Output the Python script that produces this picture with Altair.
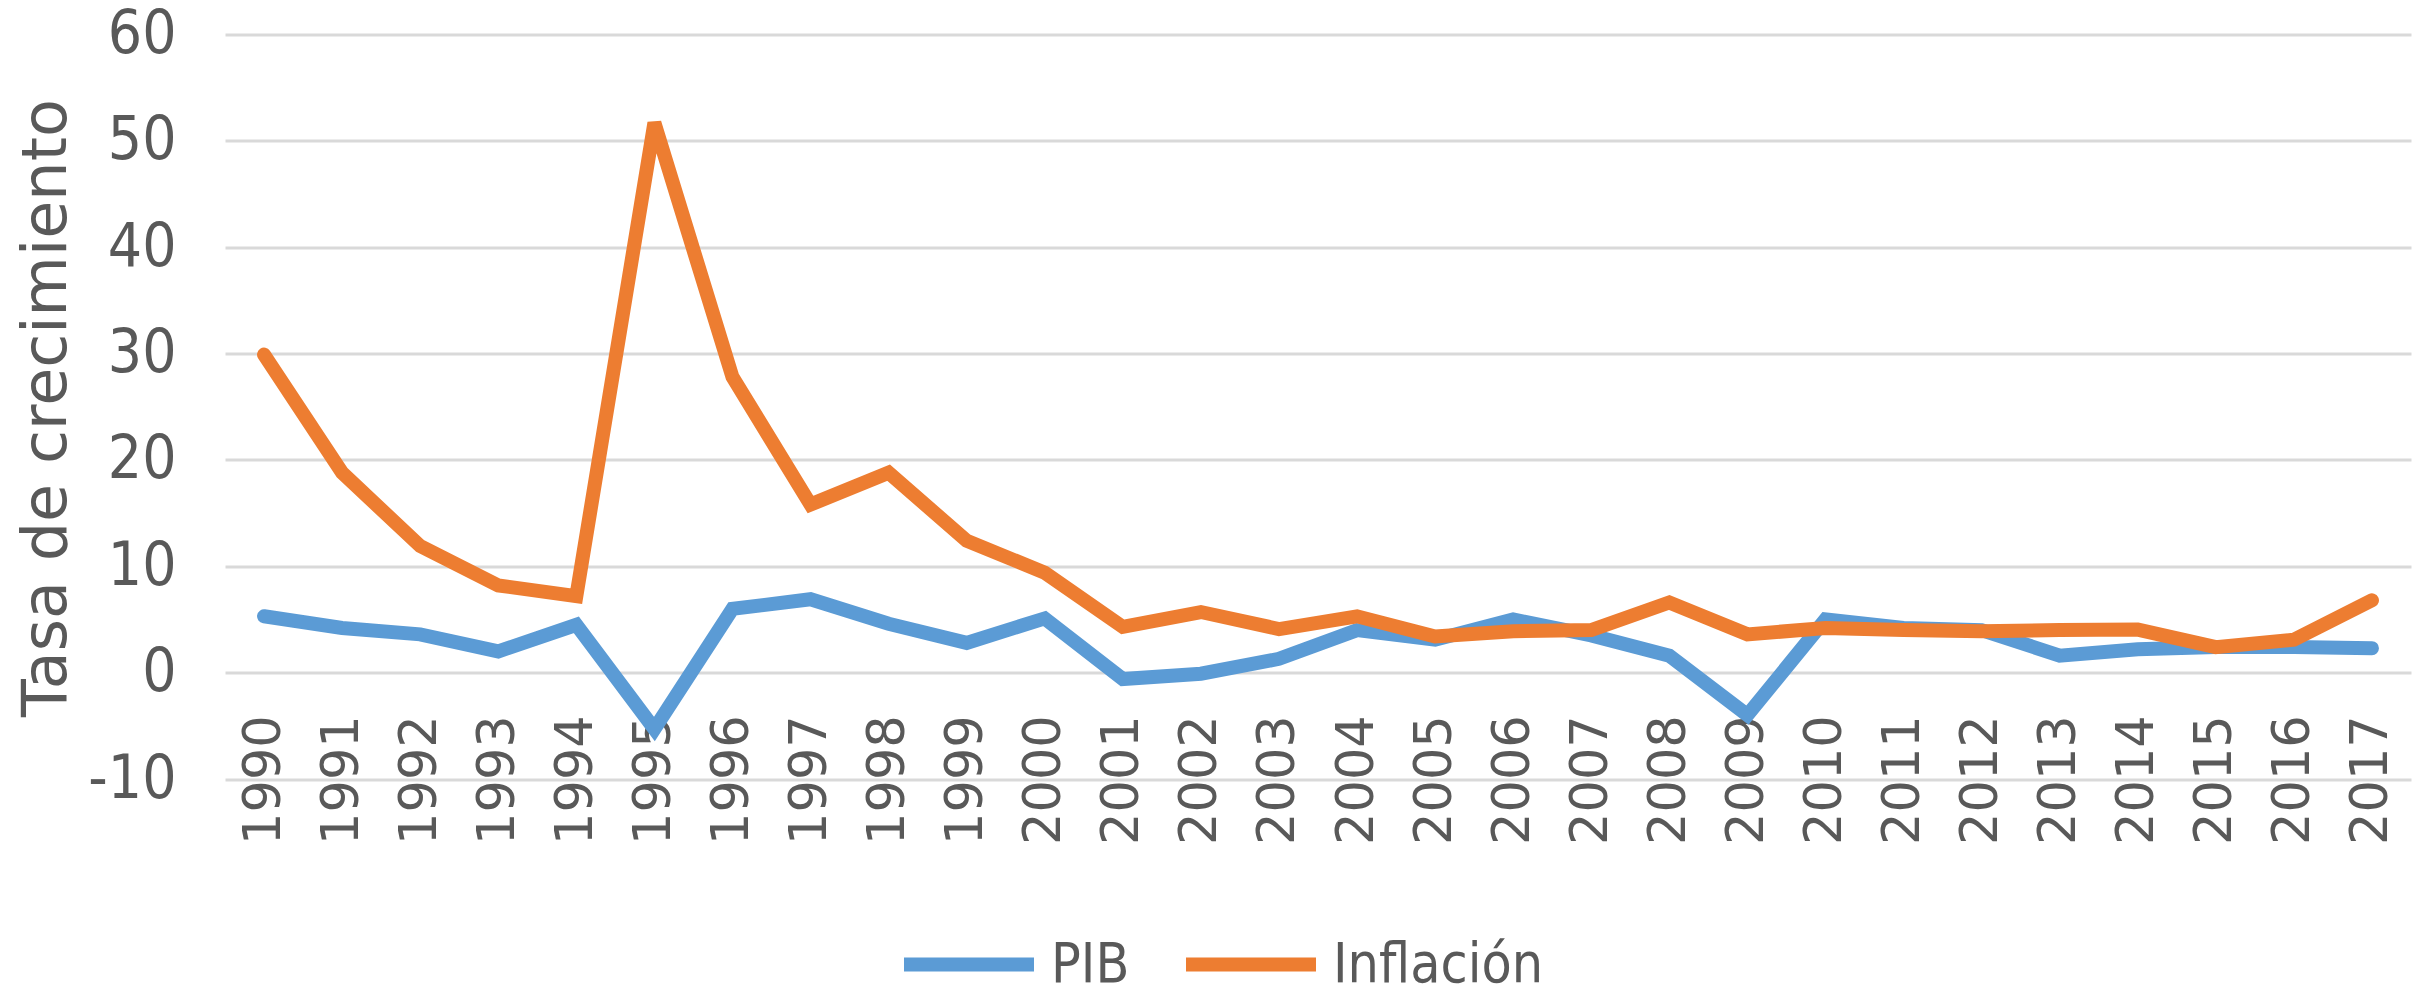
import altair as alt
import pandas as pd

years = [str(y) for y in [1990, 1991, 1992, 1993, 1994, 1995, 1996, 1997, 1998, 1999,
                          2000, 2001, 2002, 2003, 2004, 2005, 2006, 2007, 2008, 2009,
                          2010, 2011, 2012, 2013, 2014, 2015, 2016, 2017]]
pib = [5.3, 4.2, 3.6, 2.0, 4.5, -5.3, 6.0, 6.9, 4.6, 2.8,
       5.1, -0.6, -0.1, 1.3, 4.0, 3.1, 5.0, 3.5, 1.6, -4.0,
       5.0, 4.2, 4.0, 1.6, 2.2, 2.4, 2.4, 2.3]
inflacion = [29.9, 18.8, 11.9, 8.2, 7.2, 51.7, 27.8, 15.8, 18.8, 12.4,
             9.4, 4.3, 5.7, 4.1, 5.3, 3.4, 3.9, 4.0, 6.6, 3.6,
             4.2, 4.0, 3.9, 4.0, 4.05, 2.4, 3.1, 6.8]
series = ["PIB", "Inflación"]
colors = ["#5B9BD5", "#ED7D31"]
y_ticks = [-10, 0, 10, 20, 30, 40, 50, 60]

df = pd.DataFrame({
    "Año": years * 2,
    "Valor": pib + inflacion,
    "Serie": [series[0]] * len(years) + [series[1]] * len(years),
})

NARROW = "'Liberation Sans Narrow', 'DejaVu Sans Condensed', 'Liberation Sans', sans-serif"
WIDE = "DejaVu Sans"
GREY = "#595959"

base = alt.Chart(df).encode(
    x=alt.X("Año:N", sort=years,
            scale=alt.Scale(type="point", padding=0.5),
            axis=alt.Axis(title=None, labelAngle=-90, labelFont=WIDE, labelFontSize=51,
                          labelColor=GREY, labelPadding=42, offset=-106.3,
                          domain=False, ticks=False, grid=False, labelOverlap=False)),
    y=alt.Y("Valor:Q",
            scale=alt.Scale(domain=[-10, 60], nice=False, zero=False),
            axis=alt.Axis(values=y_ticks, title="Tasa de crecimiento",
                          labelExpr="toString(datum.value)",
                          titleFont=WIDE, titleFontSize=62, titleFontWeight="normal",
                          titleColor=GREY, titleAngle=270, titleX=-160, titleY=373,
                          titleAlign="center", titleBaseline="alphabetic",
                          labelFont=NARROW, labelFontSize=60, labelColor=GREY,
                          labelPadding=49, domain=False, ticks=False,
                          grid=True, gridColor="#D9D9D9", gridWidth=3)),
    color=alt.Color("Serie:N",
                    scale=alt.Scale(domain=series, range=colors),
                    legend=alt.Legend(title=None, orient="none", direction="horizontal",
                                      legendX=672, legendY=858,
                                      symbolType="stroke", symbolSize=16900,
                                      symbolStrokeWidth=14, labelFont=NARROW,
                                      labelFontSize=55, labelColor=GREY,
                                      labelOffset=10, columnPadding=28,
                                      labelLimit=400)),
)

line_style = dict(strokeWidth=14, strokeJoin="miter", strokeCap="round")
pib_line = base.transform_filter(alt.datum.Serie == "PIB").mark_line(**line_style)
inf_line = base.transform_filter(alt.datum.Serie == "Inflación").mark_line(**line_style)

chart = alt.layer(pib_line, inf_line).properties(
    width=2186,
    height=744.5,
    padding={"left": 217, "top": 26.5, "right": 6, "bottom": 209},
    autosize=alt.AutoSizeParams(type="none"),
).configure_view(stroke=None)

chart.save("out.html", embed_options={"renderer": "svg", "actions": False})
